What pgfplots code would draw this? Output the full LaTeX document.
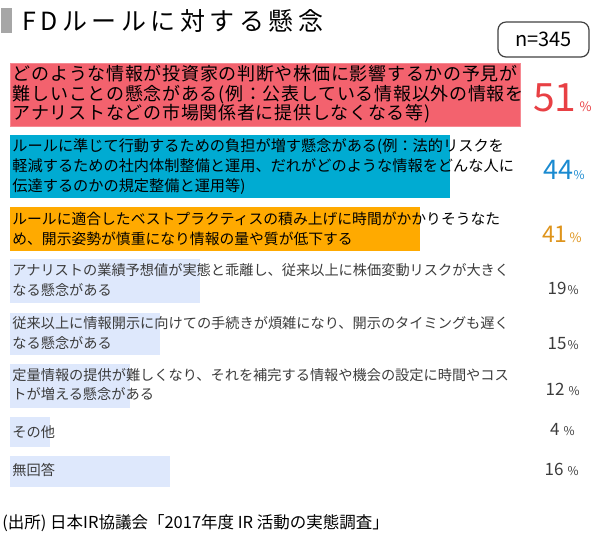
\documentclass[border=0pt]{standalone}
\usepackage{pgfplots}
\pgfplotsset{compat=1.18}
\usepackage{fontspec}
\setmainfont{Noto Sans CJK JP}
\newfontfamily\titlefont{Noto Sans CJK JP}[LetterSpace=18]
\newfontfamily\redfont{Noto Sans CJK JP}[LetterSpace=4]
\definecolor{barred}{HTML}{F3626E}
\definecolor{barblue}{HTML}{00ABD2}
\definecolor{barorange}{HTML}{FFAA00}
\definecolor{barlight}{HTML}{DEE8FC}
\definecolor{pred}{HTML}{E84044}
\definecolor{pblue}{HTML}{1A8AD0}
\definecolor{porange}{HTML}{DE941C}
\definecolor{tgray}{HTML}{3C3C3C}
\definecolor{sqgray}{HTML}{A6A6A6}
\newcommand{\fs}[2]{\fontsize{#1}{#2}\selectfont}
\begin{document}
\begin{tikzpicture}
\begin{axis}[
  width=300pt, height=269pt, scale only axis,
  xmin=-1, xmax=59, ymin=0, ymax=538, y dir=reverse,
  hide axis, clip=false,
]
% bars (value, vertical centre in px)
\addplot[xbar, bar shift=0pt, bar width=31.5pt, fill=barred, draw=barred!75!white, line width=0.4pt] coordinates {(51,94.5)};
\addplot[xbar, bar shift=0pt, bar width=31.5pt, fill=barblue, draw=none] coordinates {(44,166.5)};
\addplot[xbar, bar shift=0pt, bar width=22pt, fill=barorange, draw=none] coordinates {(41,229)};
\addplot[xbar, bar shift=0pt, bar width=22pt, fill=barlight, draw=none] coordinates {(19,281)};
\addplot[xbar, bar shift=0pt, bar width=21pt, fill=barlight, draw=none] coordinates {(15,334)};
\addplot[xbar, bar shift=0pt, bar width=22pt, fill=barlight, draw=none] coordinates {(12,386)};
\addplot[xbar, bar shift=0pt, bar width=15pt, fill=barlight, draw=none] coordinates {(4,432)};
\addplot[xbar, bar shift=0pt, bar width=15.5pt, fill=barlight, draw=none] coordinates {(16,471.5)};

% title
\fill[sqgray] (axis cs:-0.9,8) rectangle (axis cs:0.2,33);
\node[anchor=west, inner sep=0, font=\titlefont\fs{12.5}{14}] at (axis cs:1.2,21) {FDルールに対する懸念};
\node[draw=black!75, rounded corners=4pt, line width=0.6pt, minimum width=45.5pt, minimum height=17.5pt, inner sep=0, font=\fs{10}{12}] at (axis cs:53.35,39.5) {n=345};

% bar texts
\node[anchor=west, inner sep=0, align=left, font=\redfont\fs{9}{9.75}] at (axis cs:0.25,94.5)
  {どのような情報が投資家の判断や株価に影響するかの予見が\\難しいことの懸念がある(例：公表している情報以外の情報を\\アナリストなどの市場関係者に提供しなくなる等)};
\node[anchor=west, inner sep=0, align=left, font=\fs{7.6}{10}] at (axis cs:0.2,166.5)
  {ルールに準じて行動するための負担が増す懸念がある(例：法的リスクを\\軽減するための社内体制整備と運用、だれがどのような情報をどんな人に\\伝達するのかの規定整備と運用等)};
\node[anchor=west, inner sep=0, align=left, font=\fs{7.4}{9.75}] at (axis cs:0.2,229)
  {ルールに適合したベストプラクティスの積み上げに時間がかかりそうなた\\め、開示姿勢が慎重になり情報の量や質が低下する};
\node[anchor=west, inner sep=0, align=left, text=tgray, font=\fs{7.1}{9.75}] at (axis cs:0.2,280)
  {アナリストの業績予想値が実態と乖離し、従来以上に株価変動リスクが大きく\\なる懸念がある};
\node[anchor=west, inner sep=0, align=left, text=tgray, font=\fs{7.1}{9.75}] at (axis cs:0.2,333)
  {従来以上に情報開示に向けての手続きが煩雑になり、開示のタイミングも遅く\\なる懸念がある};
\node[anchor=west, inner sep=0, align=left, text=tgray, font=\fs{7.1}{9.75}] at (axis cs:0.2,384.5)
  {定量情報の提供が難しくなり、それを補完する情報や機会の設定に時間やコス\\トが増える懸念がある};
\node[anchor=west, inner sep=0, text=tgray, font=\fs{7.1}{9.75}] at (axis cs:0.2,432) {その他};
\node[anchor=west, inner sep=0, text=tgray, font=\fs{7.1}{9.75}] at (axis cs:0.2,470) {無回答};

% percentages
\node[anchor=base east, inner sep=0, text=pred] at (axis cs:58.2,111) {\fs{19.5}{20}51\hspace{1.5pt}\fs{6.5}{7}\%};
\node[anchor=base east, inner sep=0, text=pblue] at (axis cs:57.5,179) {\fs{13.5}{14}44\fs{6}{7}\%};
\node[anchor=base east, inner sep=0, text=porange] at (axis cs:57.2,242) {\fs{11.5}{12}41\hspace{1pt}\fs{6.5}{7}\%};
\node[anchor=base east, inner sep=0, text=tgray] at (axis cs:56.9,294) {\fs{8.5}{10}19\hspace{0.5pt}\fs{6}{7}\%};
\node[anchor=base east, inner sep=0, text=tgray] at (axis cs:56.9,349) {\fs{8.5}{10}15\hspace{0.5pt}\fs{6}{7}\%};
\node[anchor=base east, inner sep=0, text=tgray] at (axis cs:57.0,395) {\fs{8.5}{10}12\hspace{2pt}\fs{6}{7}\%};
\node[anchor=base east, inner sep=0, text=tgray] at (axis cs:56.5,435) {\fs{8.5}{10}4\hspace{2pt}\fs{6}{7}\%};
\node[anchor=base east, inner sep=0, text=tgray] at (axis cs:56.9,475) {\fs{8.5}{10}16\hspace{2pt}\fs{6}{7}\%};

% source
\node[anchor=west, inner sep=0, font=\fs{8.25}{10}] at (axis cs:-0.8,523) {(出所) 日本IR協議会「2017年度 IR 活動の実態調査」};

\coordinate (sw) at (rel axis cs:0,0);
\coordinate (ne) at (rel axis cs:1,1);
\end{axis}
\pgfresetboundingbox
\path[use as bounding box] (sw) rectangle (ne);
\end{tikzpicture}
\end{document}
